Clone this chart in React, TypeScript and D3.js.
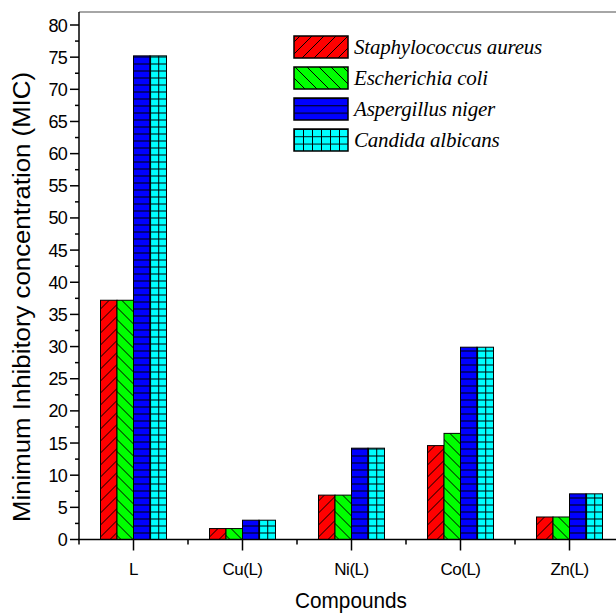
import React from "react";
import * as d3 from "d3";

// compounds on the x axis
const categories = ["L", "Cu(L)", "Ni(L)", "Co(L)", "Zn(L)"];
// MIC values
const staphylococcus = [37.2, 1.7, 6.9, 14.6, 3.5];
const escherichia = [37.2, 1.7, 6.9, 16.5, 3.5];
const aspergillus = [75.2, 3.0, 14.2, 29.9, 7.1];
const candida = [75.2, 3.0, 14.2, 29.9, 7.1];
const seriesNames = [
  "Staphylococcus aureus",
  "Escherichia coli",
  "Aspergillus niger",
  "Candida albicans",
];
const yTicks = d3.range(0, 81, 5);

const W = 616;
const H = 614;
const left = 79;
const top = 12;
const zeroY = 539.5;

export default function App() {
  const seriesValues = [staphylococcus, escherichia, aspergillus, candida];
  const fills = ["#ff0000", "#00ff00", "#0000ff", "#00ffff"];
  const patternIds = ["hatchRed", "hatchGreen", "hatchBlue", "hatchCyan"];

  const x = d3.scaleBand().domain(categories).range([left, left + 109 * 5]).padding(0);
  const inner = d3.scaleBand().domain(seriesNames).range([-33, 33]).padding(0);
  // 80 sits at y=25
  const y = d3.scaleLinear().domain([0, 80]).range([zeroY, 25]);
  const yMinor = d3.range(2.5, 81, 5);

  const bw = inner.bandwidth();
  const s = 12;

  const legendY = d3.scaleBand().domain(seriesNames).range([36, 36 + 31 * 4]);

  return (
    <svg
      width={W}
      height={H}
      style={{ position: "absolute", left: 0, top: 0, background: "#fff" }}
      fontFamily="'Liberation Sans', Arial, sans-serif"
    >
      <defs>
        <pattern id="hatchRed" patternUnits="userSpaceOnUse" width={s} height={s}>
          <rect width={s} height={s} fill={fills[0]} />
          <path
            d={`M-1,1 L1,-1 M0,${s} L${s},0 M${s - 1},${s + 1} L${s + 1},${s - 1}`}
            stroke="#000"
            strokeWidth={1}
          />
        </pattern>
        <pattern id="hatchGreen" patternUnits="userSpaceOnUse" width={s} height={s}>
          <rect width={s} height={s} fill={fills[1]} />
          <path
            d={`M-1,${s - 1} L1,${s + 1} M0,0 L${s},${s} M${s - 1},-1 L${s + 1},1`}
            stroke="#000"
            strokeWidth={1}
          />
        </pattern>
        <pattern id="hatchBlue" patternUnits="userSpaceOnUse" width={8} height={7} y={zeroY}>
          <rect width={8} height={7} fill={fills[2]} />
          <path d="M0,0.5 L8,0.5" stroke="#000" strokeWidth={1} />
        </pattern>
        {/* bars are drawn in a group translated to the category centre */}
        <pattern
          id="hatchCyan"
          patternUnits="userSpaceOnUse"
          width={bw / 2}
          height={7}
          x={inner(seriesNames[3]) as number}
          y={zeroY}
        >
          <rect width={bw / 2} height={7} fill={fills[3]} />
          <path d={`M0,0.5 L${bw / 2},0.5 M0.5,0 L0.5,7`} stroke="#000" strokeWidth={1} />
        </pattern>
        <pattern id="legendCyan" patternUnits="userSpaceOnUse" width={9} height={7.3} x={294} y={129}>
          <rect width={9} height={7.3} fill={fills[3]} />
          <path d="M0,0.5 L9,0.5 M0.5,0 L0.5,7.3" stroke="#000" strokeWidth={1} />
        </pattern>
        <pattern id="legendBlue" patternUnits="userSpaceOnUse" width={9} height={7.3} x={294} y={98}>
          <rect width={9} height={7.3} fill={fills[2]} />
          <path d="M0,0.5 L9,0.5" stroke="#000" strokeWidth={1} />
        </pattern>
      </defs>

      {/* top frame */}
      <line x1={left} x2={W} y1={top} y2={top} stroke="#888" strokeWidth={1.5} />

      {/* bars */}
      {categories.map((c, ci) => (
        <g key={c} transform={`translate(${(x(c) as number) + x.bandwidth() / 2},0)`}>
          {seriesNames.map((sn, si) => {
            const v = seriesValues[si][ci];
            return (
              <rect
                key={sn}
                x={inner(sn)}
                y={y(v)}
                width={bw}
                height={zeroY - y(v)}
                fill={`url(#${patternIds[si]})`}
                stroke="#000"
                strokeWidth={1}
              />
            );
          })}
        </g>
      ))}

      {/* y axis */}
      <line x1={left} x2={left} y1={top} y2={zeroY} stroke="#000" strokeWidth={1.5} />
      {yTicks.map((t) => (
        <g key={t}>
          <line x1={left - 9} x2={left} y1={y(t)} y2={y(t)} stroke="#000" strokeWidth={1.5} />
          <text x={left - 12} y={y(t) + 6.5} textAnchor="end" fontSize={18} letterSpacing={-0.8}>
            {t}
          </text>
        </g>
      ))}
      {yMinor.map((t) => (
        <line key={t} x1={left - 4} x2={left} y1={y(t)} y2={y(t)} stroke="#000" strokeWidth={1.5} />
      ))}

      {/* x axis */}
      <line x1={left - 1} x2={W} y1={zeroY} y2={zeroY} stroke="#000" strokeWidth={1.5} />
      {categories.map((c) => {
        const cx = (x(c) as number) + x.bandwidth() / 2;
        return (
          <g key={c}>
            <line x1={cx} x2={cx} y1={zeroY} y2={zeroY + 11} stroke="#000" strokeWidth={1.5} />
            <line
              x1={x(c) as number}
              x2={x(c) as number}
              y1={zeroY}
              y2={zeroY + 5}
              stroke="#000"
              strokeWidth={1.5}
            />
            <text x={cx} y={575} textAnchor="middle" fontSize={17} letterSpacing={-0.5}>
              {c}
            </text>
          </g>
        );
      })}

      {/* axis titles */}
      <text x={351} y={608} textAnchor="middle" fontSize={22} textLength={112} lengthAdjust="spacingAndGlyphs">
        Compounds
      </text>
      <text
        transform={`translate(30,297) rotate(-90)`}
        textAnchor="middle"
        fontSize={23}
        textLength={450}
        lengthAdjust="spacingAndGlyphs"
      >
        Minimum Inhibitory concentration (MIC)
      </text>

      {/* legend */}
      {seriesNames.map((sn, si) => {
        const ly = legendY(sn) as number;
        const fillId = si === 3 ? "legendCyan" : si === 2 ? "legendBlue" : patternIds[si];
        return (
          <g key={sn}>
            <rect x={294} y={ly} width={54} height={22} fill={`url(#${fillId})`} stroke="#000" strokeWidth={1.5} />
            <text
              x={354}
              y={ly + 18}
              fontFamily="'Liberation Serif', 'Times New Roman', serif"
              fontStyle="italic"
              fontSize={21}
              letterSpacing={-0.2}
            >
              {sn}
            </text>
          </g>
        );
      })}
    </svg>
  );
}
